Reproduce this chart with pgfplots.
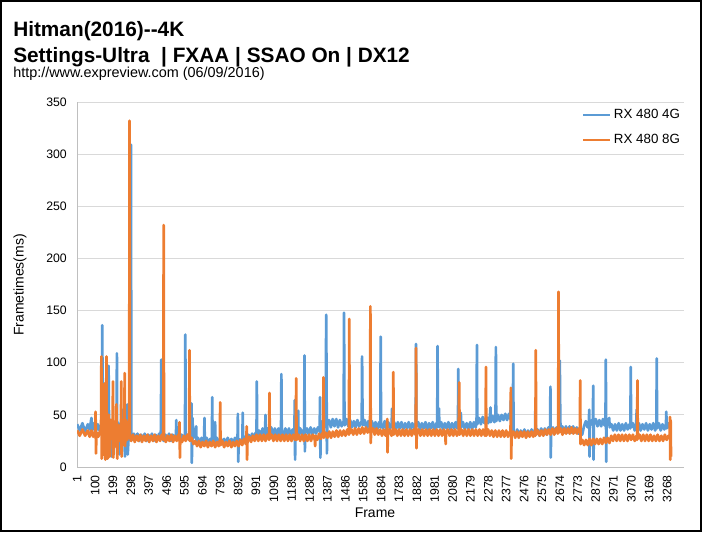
\documentclass[border=0pt]{standalone}
\usepackage{fontspec}
\setmainfont{Liberation Sans}
\usepackage{pgfplots}
\usepackage{pgfplotstable}
\pgfplotsset{compat=1.18}
\definecolor{s4g}{HTML}{5B9BD5}
\definecolor{s8g}{HTML}{ED7D31}
\definecolor{gridc}{HTML}{D9D9D9}
\definecolor{axc}{HTML}{BFBFBF}

% RX 480 4G frametimes (ms)
\pgfplotstableread[row sep=\\]{
f ms\\
1 41\\ 15 35\\ 30 42\\ 45 34\\ 60 41\\ 70 36\\ 80 47\\ 84 35\\ 95 42\\ 105 34\\ 115 41\\ 125 35\\ 132 40\\
138 36\\ 140 136\\ 142 55\\ 146 12\\ 150 40\\ 154 75\\ 157 20\\ 162 42\\ 166 8\\ 170 35\\ 175 97\\ 178 25\\
184 45\\ 190 10\\ 196 38\\ 203 12\\ 209 40\\ 219 30\\ 221 109\\ 223 20\\ 229 42\\ 236 12\\ 242 38\\ 250 55\\
253 28\\ 260 36\\ 266 10\\ 272 35\\ 278 60\\ 281 12\\ 287 32\\ 293 28\\ 297 30\\ 299 309\\ 301 30\\
305 26\\ 315 32\\ 325 26\\ 335 32\\ 345 25\\ 355 31\\ 365 26\\ 375 32\\ 385 25\\ 395 31\\ 405 26\\ 415 32\\
425 25\\ 435 31\\ 445 26\\ 455 32\\ 464 27\\ 467 103\\ 470 30\\ 480 25\\ 490 31\\ 500 26\\ 510 32\\ 520 25\\
530 31\\ 540 26\\ 548 30\\ 550 45\\ 552 26\\ 560 32\\ 570 25\\ 580 31\\ 590 26\\ 598 30\\ 600 127\\ 602 27\\
610 31\\ 620 26\\ 630 30\\ 634 61\\ 636 4\\ 638 28\\ 640 47\\ 642 27\\
650 30\\ 660 39\\ 662 24\\ 670 28\\ 680 22\\ 690 28\\ 700 22\\ 704 27\\ 706 47\\ 708 23\\ 718 28\\ 728 22\\
738 27\\ 747 23\\ 749 67\\ 751 24\\ 760 28\\ 765 43\\ 767 23\\ 775 28\\ 785 22\\ 795 28\\ 805 22\\ 815 27\\
825 22\\ 835 28\\ 845 22\\ 855 27\\ 865 22\\ 875 28\\ 884 23\\ 889 27\\ 891 51\\ 893 5\\ 896 27\\ 906 23\\
916 28\\ 918 52\\ 920 24\\ 930 29\\
940 25\\ 950 31\\ 960 26\\ 970 32\\ 980 28\\ 990 33\\ 994 29\\ 996 82\\ 998 30\\ 1008 35\\
1018 30\\ 1028 37\\ 1038 31\\ 1042 36\\ 1044 50\\ 1046 31\\ 1056 37\\ 1066 31\\ 1076 38\\ 1086 31\\
1096 37\\ 1106 30\\ 1116 37\\ 1126 31\\ 1130 36\\ 1132 89\\ 1134 33\\ 1144 30\\ 1154 37\\ 1164 31\\
1174 37\\ 1184 30\\ 1194 36\\ 1204 32\\ 1206 64\\ 1208 7\\ 1210 33\\ 1220 37\\ 1225 54\\ 1227 31\\
1237 37\\ 1247 30\\ 1256 36\\ 1258 33\\ 1260 107\\ 1262 15\\ 1264 33\\ 1274 37\\ 1284 31\\ 1294 38\\
1304 31\\ 1314 37\\ 1324 32\\ 1334 38\\ 1344 34\\ 1346 67\\ 1348 9\\ 1350 36\\
1360 44\\ 1370 38\\ 1378 43\\ 1380 146\\ 1382 94\\ 1384 13\\ 1386 40\\ 1396 45\\ 1406 38\\ 1416 46\\
1426 39\\ 1436 46\\ 1446 38\\ 1456 45\\ 1466 39\\ 1477 44\\ 1479 148\\ 1481 64\\ 1483 40\\ 1493 46\\
1503 39\\ 1513 45\\ 1523 38\\ 1533 44\\ 1543 38\\ 1553 45\\ 1563 39\\ 1577 44\\ 1579 106\\ 1581 61\\
1583 40\\ 1593 45\\
1603 37\\ 1613 44\\ 1623 37\\ 1633 44\\ 1643 37\\ 1653 43\\ 1663 36\\ 1673 43\\ 1680 38\\ 1682 125\\
1684 41\\ 1694 37\\ 1704 44\\ 1714 36\\ 1724 43\\ 1734 37\\ 1743 42\\ 1745 56\\ 1747 38\\ 1757 43\\
1767 36\\ 1777 43\\ 1787 37\\ 1797 43\\ 1807 36\\ 1817 42\\ 1827 37\\ 1837 43\\ 1847 36\\ 1857 42\\
1867 37\\ 1876 42\\ 1878 118\\ 1880 39\\ 1890 43\\ 1900 36\\ 1910 42\\ 1920 37\\ 1930 43\\ 1940 36\\
1950 42\\ 1960 37\\ 1970 43\\ 1980 36\\ 1990 42\\ 1995 38\\ 1997 116\\ 1999 41\\ 2005 56\\ 2007 38\\
2017 43\\ 2027 36\\ 2037 42\\ 2047 37\\ 2057 43\\ 2067 36\\ 2077 42\\ 2087 37\\ 2097 43\\ 2106 37\\
2110 42\\ 2112 94\\ 2114 38\\ 2124 43\\ 2126 52\\ 2128 38\\ 2138 43\\ 2148 36\\ 2158 42\\ 2168 37\\
2178 43\\ 2188 36\\ 2198 43\\ 2208 38\\ 2213 43\\ 2215 117\\ 2217 41\\
2227 47\\ 2237 41\\ 2247 48\\ 2257 42\\ 2267 48\\ 2277 42\\ 2287 49\\ 2290 57\\ 2292 43\\ 2302 49\\
2312 43\\ 2318 48\\ 2320 115\\ 2322 44\\ 2332 50\\ 2342 44\\ 2352 50\\ 2362 45\\ 2372 51\\ 2382 45\\
2392 51\\ 2400 46\\ 2403 64\\ 2405 45\\ 2410 50\\ 2414 46\\ 2416 99\\ 2418 34\\
2428 30\\ 2438 36\\ 2448 29\\ 2458 35\\ 2468 30\\ 2478 36\\ 2488 29\\ 2498 35\\ 2508 30\\ 2518 36\\
2528 30\\ 2537 35\\ 2539 60\\ 2541 31\\ 2551 36\\ 2561 30\\ 2571 37\\ 2581 31\\ 2591 37\\ 2601 31\\
2611 38\\ 2620 32\\ 2622 77\\ 2624 9\\ 2626 34\\ 2636 38\\ 2646 32\\ 2656 38\\ 2665 33\\ 2672 36\\
2674 102\\ 2676 61\\ 2678 35\\ 2688 39\\ 2698 33\\ 2708 39\\ 2718 33\\ 2728 39\\ 2738 33\\ 2748 39\\
2758 33\\ 2768 38\\ 2778 32\\ 2788 36\\ 2798 31\\
2808 39\\ 2818 44\\ 2828 38\\ 2835 44\\ 2837 55\\ 2839 10\\ 2841 40\\ 2851 45\\ 2857 40\\ 2859 78\\
2861 7\\ 2863 41\\ 2873 46\\ 2883 39\\ 2893 45\\ 2903 39\\ 2913 46\\ 2921 40\\ 2927 44\\ 2929 103\\
2931 5\\ 2933 40\\ 2943 45\\ 2948 47\\ 2950 38\\
2960 41\\ 2970 35\\ 2980 41\\ 2990 35\\ 3000 42\\ 3010 35\\ 3020 41\\ 3030 35\\ 3040 42\\ 3050 36\\
3060 41\\ 3065 37\\ 3067 96\\ 3069 38\\ 3079 42\\ 3089 35\\ 3097 41\\ 3100 55\\ 3102 36\\ 3112 42\\
3122 35\\ 3132 41\\ 3142 36\\ 3152 42\\ 3162 35\\ 3172 41\\ 3182 36\\ 3192 42\\ 3202 35\\ 3209 40\\
3211 104\\ 3213 37\\ 3223 42\\ 3233 35\\ 3243 41\\ 3253 36\\ 3262 41\\ 3264 53\\ 3266 37\\ 3276 42\\
3286 36\\ 3288 40\\
}\dataA

% RX 480 8G frametimes (ms)
\pgfplotstableread[row sep=\\]{
f ms\\
1 35\\ 15 30\\ 30 36\\ 45 30\\ 60 35\\ 70 29\\ 80 35\\ 90 29\\ 100 34\\ 103 53\\ 105 13\\ 108 33\\
118 29\\ 128 35\\ 133 31\\
135 106\\ 137 8\\ 142 40\\ 147 12\\ 152 80\\ 157 7\\ 161 30\\ 163 106\\ 165 25\\ 170 8\\ 176 50\\
181 10\\ 187 45\\ 192 28\\ 197 30\\ 199 82\\ 201 9\\ 207 35\\ 214 20\\ 218 60\\ 223 8\\ 230 40\\
238 25\\ 243 30\\ 245 82\\ 247 10\\ 253 45\\ 258 22\\ 262 30\\ 264 90\\ 266 20\\ 272 45\\ 278 26\\
285 33\\ 289 28\\ 291 332\\ 293 29\\
300 25\\ 310 31\\ 320 24\\ 330 30\\ 340 25\\ 350 31\\ 360 24\\ 370 30\\ 380 25\\ 390 31\\ 400 24\\
410 30\\ 420 25\\ 430 31\\ 440 24\\ 450 30\\ 460 25\\ 470 31\\ 478 26\\ 480 232\\ 482 28\\ 492 24\\
502 30\\ 512 25\\ 522 31\\ 532 24\\ 542 30\\ 552 25\\ 562 31\\ 566 26\\ 568 43\\ 570 9\\ 572 27\\
582 24\\ 592 30\\ 602 25\\ 612 31\\ 621 26\\ 623 112\\ 625 25\\ 635 28\\ 645 22\\
655 25\\ 665 20\\ 675 25\\ 685 19\\ 695 24\\ 705 20\\ 715 25\\ 725 19\\ 735 24\\ 745 20\\ 755 25\\
765 19\\ 775 24\\ 785 20\\ 791 24\\ 793 62\\ 795 21\\ 805 25\\ 815 19\\ 825 24\\ 835 20\\ 845 25\\
855 19\\ 865 24\\ 875 20\\ 885 25\\ 895 20\\ 905 26\\ 915 21\\ 925 27\\ 935 22\\ 938 27\\ 940 39\\
942 7\\ 944 24\\
954 29\\ 964 24\\ 974 30\\ 984 25\\ 994 31\\ 1004 25\\ 1014 31\\ 1024 25\\ 1034 31\\ 1044 25\\
1054 31\\ 1064 26\\ 1066 71\\ 1068 27\\ 1078 31\\ 1088 25\\ 1098 31\\ 1108 25\\ 1118 31\\ 1128 25\\
1138 31\\ 1148 25\\ 1158 31\\ 1168 25\\ 1178 31\\ 1188 25\\ 1198 31\\ 1208 26\\ 1212 30\\ 1214 85\\
1216 26\\ 1226 31\\ 1236 25\\ 1246 31\\ 1256 25\\ 1266 31\\ 1276 25\\ 1286 31\\ 1296 25\\ 1306 31\\
1317 26\\ 1319 20\\ 1321 30\\ 1331 26\\ 1341 32\\ 1351 27\\
1361 33\\ 1363 30\\ 1365 86\\ 1367 28\\ 1377 33\\ 1387 28\\ 1397 34\\ 1407 28\\ 1417 34\\ 1427 29\\
1437 35\\ 1447 29\\ 1457 35\\ 1467 30\\ 1477 35\\ 1487 30\\ 1497 36\\ 1506 31\\ 1508 142\\ 1510 32\\
1520 36\\ 1530 31\\ 1540 37\\ 1550 31\\ 1560 37\\ 1570 32\\ 1580 38\\ 1590 32\\ 1600 38\\ 1610 33\\
1620 37\\ 1623 33\\ 1625 154\\ 1627 23\\ 1629 34\\
1639 37\\ 1649 31\\ 1659 37\\ 1669 31\\ 1679 36\\ 1689 30\\ 1699 36\\ 1709 30\\ 1716 35\\ 1718 46\\
1720 14\\ 1722 31\\ 1732 36\\ 1742 30\\ 1750 35\\ 1752 91\\ 1754 31\\ 1764 36\\ 1774 30\\ 1784 36\\
1794 30\\ 1804 36\\ 1814 30\\ 1824 36\\ 1834 30\\ 1844 36\\ 1854 30\\ 1864 36\\ 1874 31\\ 1876 34\\
1878 114\\ 1880 18\\ 1882 32\\ 1892 36\\ 1902 30\\ 1912 36\\ 1922 30\\ 1932 36\\ 1942 30\\ 1952 36\\
1962 30\\ 1972 36\\ 1982 30\\ 1992 36\\ 2002 30\\ 2012 36\\ 2022 30\\ 2032 36\\ 2040 30\\ 2042 22\\
2044 33\\ 2054 36\\ 2064 30\\ 2074 36\\ 2084 30\\ 2094 36\\ 2104 30\\ 2114 35\\ 2117 81\\ 2119 31\\
2129 36\\ 2139 30\\ 2149 36\\ 2159 30\\ 2169 36\\ 2179 30\\ 2189 36\\ 2199 30\\ 2209 36\\ 2219 30\\
2229 36\\ 2239 30\\ 2249 36\\ 2259 30\\ 2263 34\\ 2265 96\\ 2267 30\\ 2277 36\\ 2287 30\\ 2297 35\\
2307 29\\ 2317 35\\ 2327 29\\ 2337 35\\ 2347 29\\ 2357 35\\ 2367 29\\ 2377 35\\ 2387 29\\ 2397 34\\
2401 30\\ 2403 76\\ 2405 8\\ 2407 31\\
2417 34\\ 2427 28\\ 2437 34\\ 2447 28\\ 2457 34\\ 2467 29\\ 2477 34\\ 2487 28\\ 2497 34\\ 2507 29\\
2517 34\\ 2527 29\\ 2537 35\\ 2539 30\\ 2541 112\\ 2543 31\\ 2553 35\\ 2563 30\\ 2573 35\\ 2583 30\\
2593 36\\ 2603 31\\ 2613 36\\ 2623 31\\ 2633 37\\ 2643 31\\ 2653 37\\ 2663 32\\ 2665 36\\ 2667 168\\
2669 33\\ 2679 37\\ 2689 31\\ 2699 37\\ 2709 32\\ 2719 37\\ 2729 32\\ 2739 38\\ 2749 32\\ 2759 37\\
2769 32\\ 2779 37\\ 2785 33\\ 2787 83\\ 2789 22\\
2799 26\\ 2809 21\\ 2819 26\\ 2829 21\\ 2839 27\\ 2849 21\\ 2859 27\\ 2869 22\\ 2879 27\\ 2889 22\\
2899 27\\ 2909 22\\ 2919 28\\ 2929 23\\ 2939 28\\ 2949 23\\
2959 30\\ 2969 25\\ 2979 31\\ 2989 25\\ 2999 31\\ 3009 25\\ 3019 31\\ 3029 25\\ 3039 31\\ 3049 25\\
3059 31\\ 3069 26\\ 3079 31\\ 3089 25\\ 3099 30\\ 3102 26\\ 3104 83\\ 3106 27\\ 3116 31\\ 3126 25\\
3136 31\\ 3146 25\\ 3156 31\\ 3166 25\\ 3176 31\\ 3186 25\\ 3196 30\\ 3206 25\\ 3216 31\\ 3226 25\\
3236 30\\ 3246 25\\ 3256 31\\ 3266 26\\ 3276 30\\ 3282 28\\ 3284 48\\ 3286 7\\ 3288 45\\ 3290 10\\
}\dataB

\begin{document}
\begin{tikzpicture}
\begin{scope}[x=0.75pt,y=0.75pt]
  \useasboundingbox (0,0) rectangle (702,532);
  \draw[black, line width=1.2pt] (0.8,0.8) rectangle (701.2,531.2);
  \node[anchor=base west, inner sep=0pt, font=\bfseries\fontsize{15.6}{18}\selectfont] at (13,495) {Hitman(2016)-{}-4K};
  \node[anchor=base west, inner sep=0pt, font=\bfseries\fontsize{15.6}{18}\selectfont] at (13,469) {Settings-Ultra\ \ | FXAA | SSAO On | DX12};
  \node[anchor=base west, inner sep=0pt, font=\fontsize{10.8}{12}\selectfont] at (13,454) {http://www.expreview.com (06/09/2016)};
  \node[rotate=90, inner sep=0pt, font=\fontsize{10.5}{12}\selectfont] at (20,247) {Frametimes(ms)};
  \node[inner sep=0pt, font=\fontsize{10.5}{12}\selectfont] at (375,19) {Frame};
\end{scope}
\begin{axis}[
  at={(57.75pt,48.75pt)}, anchor=south west,
  scale only axis, width=455.25pt, height=273.75pt,
  xmin=0, xmax=3362, ymin=0, ymax=350,
  axis lines*=left,
  axis line style={draw=axc, line width=0.75pt},
  major tick length=0pt,
  ytick={0,50,...,350},
  xtick={1,100,...,3268},
  ymajorgrids, grid style={draw=gridc, line width=0.75pt},
  /pgf/number format/assume math mode=true,
  /pgf/number format/1000 sep={},
  ticklabel style={font=\fontsize{9.2}{10}\selectfont, inner sep=0pt},
  yticklabel shift=7.5pt,
  xticklabel shift=6pt,
  xticklabel style={rotate=90, anchor=east},
  legend style={at={(axis description cs:0.832,0.93)}, anchor=west,
    draw=none, fill=none, inner sep=0pt, row sep=6pt,
    font=\fontsize{10}{12}\selectfont},
  legend cell align=left,
  legend image code/.code={\draw[#1, line width=1.5pt] (0pt,0pt) -- (20.25pt,0pt);},
]
\addplot[s4g, line width=2pt, line join=round, mark=none] table[x=f, y=ms] {\dataA};
\addlegendentry{RX 480 4G}
\addplot[s8g, line width=2pt, line join=round, mark=none] table[x=f, y=ms] {\dataB};
\addlegendentry{RX 480 8G}
\end{axis}
\end{tikzpicture}
\end{document}
